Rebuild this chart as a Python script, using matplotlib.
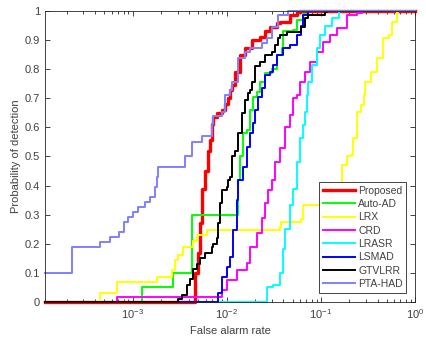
import matplotlib.pyplot as plt
from matplotlib.ticker import LogLocator, NullFormatter

plt.rcParams['font.family'] = ['Liberation Sans', 'DejaVu Sans']

# ROC curves (false alarm rate, probability of detection), drawn as post-steps
fpr_proposed = [1.17e-4, 3.62e-3, 4.64e-3, 4.99e-3, 5.24e-3, 5.46e-3, 5.92e-3, 6.37e-3, 6.68e-3, 6.97e-3,
                7.19e-3, 7.89e-3, 8.91e-3, 9.66e-3, 1.04e-2, 1.09e-2, 1.14e-2, 1.23e-2, 1.39e-2, 1.58e-2,
                1.86e-2, 2.28e-2, 2.57e-2, 2.91e-2, 3.43e-2, 3.72e-2, 4.74e-2, 5.6e-2, 6.07e-2, 1.0]
pd_proposed = [0, 0.0, 0.10, 0.17, 0.27, 0.39, 0.45, 0.52, 0.557, 0.61,
               0.635, 0.65, 0.66, 0.68, 0.70, 0.73, 0.745, 0.79, 0.85, 0.873,
               0.90, 0.912, 0.93, 0.946, 0.958, 0.963, 0.986, 0.998, 1.0, 1.0]

fpr_autoad = [1.17e-4, 1.26e-3, 2.70e-3, 4.28e-3, 1.33e-2, 1.39e-2, 1.50e-2, 1.64e-2, 1.78e-2, 1.92e-2,
              2.10e-2, 2.28e-2, 2.57e-2, 3.03e-2, 3.43e-2, 3.90e-2, 4.0e-2, 5.1e-2, 5.6e-2, 6.53e-2,
              7.38e-2, 1.0]
pd_autoad = [0, 0.05, 0.10, 0.30, 0.42, 0.50, 0.58, 0.59, 0.66, 0.705,
             0.72, 0.757, 0.787, 0.80, 0.85, 0.873, 0.93, 0.935, 0.97, 0.99,
             1.0, 1.0]

fpr_lrx = [1.17e-4, 4.5e-4, 6.8e-4, 1.81e-3, 2.62e-3, 2.84e-3, 3.05e-3, 3.45e-3, 4.41e-3, 4.83e-3,
           6.17e-3, 3.72e-2, 3.81e-2, 6.21e-2, 6.53e-2, 0.160, 0.168, 0.19, 0.207, 0.222,
           0.243, 0.264, 0.284, 0.298, 0.337, 0.397, 0.463, 0.524, 0.573, 0.647, 0.668, 1.0]
pd_lrx = [0, 0.03, 0.07, 0.085, 0.11, 0.144, 0.16, 0.19, 0.21, 0.23,
          0.247, 0.258, 0.275, 0.286, 0.333, 0.40, 0.47, 0.50, 0.505, 0.563,
          0.654, 0.677, 0.71, 0.757, 0.79, 0.84, 0.907, 0.917, 0.963, 0.998, 1.0, 1.0]

fpr_crd = [1.17e-4, 6.8e-4, 8.91e-3, 1.007e-2, 1.29e-2, 1.64e-2, 1.78e-2, 2.10e-2, 2.37e-2, 2.57e-2,
           2.77e-2, 3.03e-2, 3.29e-2, 3.72e-2, 4.2e-2, 4.74e-2, 5.1e-2, 5.6e-2, 6.07e-2, 6.86e-2,
           7.74e-2, 9.12e-2, 0.106, 0.126, 0.149, 0.19, 0.243, 0.275, 1.0]
pd_crd = [0, 0.016, 0.04, 0.075, 0.11, 0.134, 0.19, 0.237, 0.29, 0.34,
          0.385, 0.42, 0.48, 0.53, 0.60, 0.643, 0.70, 0.71, 0.757, 0.79,
          0.825, 0.86, 0.894, 0.917, 0.94, 0.986, 0.993, 1.0, 1.0]

fpr_lrasr = [1.17e-4, 2.68e-2, 3.13e-2, 3.69e-2, 4.0e-2, 4.17e-2, 4.71e-2, 5.1e-2, 5.6e-2, 6.07e-2,
             6.53e-2, 6.86e-2, 7.14e-2, 7.38e-2, 8.07e-2, 9.12e-2, 9.9e-2, 0.112, 0.132, 0.154, 1.0]
pd_lrasr = [0, 0.05, 0.058, 0.10, 0.183, 0.25, 0.333, 0.39, 0.48, 0.563,
            0.608, 0.654, 0.71, 0.757, 0.815, 0.873, 0.917, 0.95, 0.976, 1.0, 1.0]

fpr_lsmad = [1.17e-4, 8.13e-3, 8.91e-3, 1.007e-2, 1.09e-2, 1.17e-2, 1.29e-2, 1.33e-2, 1.50e-2,
             1.64e-2, 1.78e-2, 1.92e-2, 2.01e-2, 2.17e-2, 2.37e-2, 2.57e-2, 2.91e-2, 3.13e-2, 3.43e-2,
             4.0e-2, 4.74e-2, 5.6e-2, 6.21e-2, 6.53e-2, 7.38e-2, 1.0]
pd_lsmad = [0, 0.03, 0.087, 0.12, 0.155, 0.247, 0.35, 0.42, 0.464,
            0.534, 0.58, 0.615, 0.66, 0.705, 0.735, 0.78, 0.79, 0.815, 0.85,
            0.873, 0.883, 0.917, 0.95, 0.986, 1.0, 1.0]

fpr_gtvlrr = [1.17e-4, 3.05e-3, 3.34e-3, 3.78e-3, 4.10e-3, 4.41e-3, 4.83e-3, 5.24e-3, 5.92e-3, 6.97e-3,
              7.19e-3, 7.89e-3, 8.13e-3, 8.55e-3, 8.91e-3, 1.007e-2, 1.04e-2, 1.09e-2, 1.14e-2, 1.23e-2,
              1.33e-2, 1.46e-2, 1.58e-2, 1.70e-2, 1.78e-2, 1.86e-2, 2.01e-2, 2.28e-2, 2.57e-2, 3.03e-2,
              3.29e-2, 3.54e-2, 3.72e-2, 4.38e-2, 6.21e-2, 6.86e-2, 7.38e-2, 0.112, 0.117, 1.0]
pd_gtvlrr = [0, 0.01, 0.024, 0.058, 0.08, 0.114, 0.13, 0.15, 0.17, 0.19,
             0.20, 0.22, 0.27, 0.34, 0.385, 0.396, 0.42, 0.43, 0.50, 0.52,
             0.58, 0.65, 0.694, 0.717, 0.73, 0.757, 0.81, 0.825, 0.85, 0.86,
             0.883, 0.907, 0.917, 0.928, 0.945, 0.975, 0.986, 0.996, 1.0, 1.0]

fpr_ptahad = [1.17e-4, 2.28e-4, 4.5e-4, 5.8e-4, 7.1e-4, 8.0e-4, 8.97e-4, 1.01e-3, 1.15e-3, 1.36e-3,
              1.54e-3, 1.74e-3, 1.81e-3, 1.87e-3, 3.62e-3, 4.28e-3, 5.46e-3, 6.97e-3, 7.19e-3, 8.91e-3,
              9.66e-3, 1.09e-2, 1.14e-2, 1.33e-2, 1.58e-2, 1.78e-2, 2.37e-2, 2.68e-2, 3.03e-2, 3.54e-2,
              4.52e-2, 1.0]
pd_ptahad = [0.10, 0.19, 0.207, 0.224, 0.24, 0.276, 0.293, 0.31, 0.328, 0.345,
             0.362, 0.396, 0.43, 0.465, 0.50, 0.55, 0.57, 0.61, 0.64, 0.654,
             0.71, 0.73, 0.757, 0.84, 0.86, 0.873, 0.89, 0.907, 0.946, 0.986,
             1.0, 1.0]

names = ['Proposed', 'Auto-AD', 'LRX', 'CRD', 'LRASR', 'LSMAD', 'GTVLRR', 'PTA-HAD']
curvas = [(fpr_proposed, pd_proposed), (fpr_autoad, pd_autoad), (fpr_lrx, pd_lrx),
          (fpr_crd, pd_crd), (fpr_lrasr, pd_lrasr), (fpr_lsmad, pd_lsmad),
          (fpr_gtvlrr, pd_gtvlrr), (fpr_ptahad, pd_ptahad)]
colores = ['#ff0000', '#00ff00', '#ffff00', '#ff00ff', '#00ffff', '#0000ff', '#000000', '#8080ff']
anchos = [2.4, 1.4, 1.4, 1.4, 1.4, 1.4, 1.4, 1.4]

fig = plt.figure(figsize=(4.26, 3.43), dpi=100)
ax = fig.add_axes([0.1056, 0.1195, 0.8685, 0.8485])

for nombre, (fx, fy), c, lw in zip(names, curvas, colores, anchos):
    ax.step(fx, fy, where='post', color=c, linewidth=lw, label=nombre, clip_on=False)

ax.set_xscale('log')
ax.set_xlim(1.17e-4, 1)
ax.set_ylim(0, 1)
ax.set_xticks([1e-3, 1e-2, 1e-1, 1e0])
ax.xaxis.set_minor_locator(LogLocator(base=10, subs=range(2, 10), numticks=20))
ax.xaxis.set_minor_formatter(NullFormatter())
yt = [i / 10 for i in range(11)]
ax.set_yticks(yt)
ax.set_yticklabels(['0', '0.1', '0.2', '0.3', '0.4', '0.5', '0.6', '0.7', '0.8', '0.9', '1'])

gris = '#262626'
ax.tick_params(which='both', direction='in', top=True, right=True, colors=gris,
               labelcolor='#404040', labelsize=8, width=0.6)
ax.tick_params(which='major', length=3.5)
ax.tick_params(which='minor', length=2)
for s in ax.spines.values():
    s.set_color(gris)
    s.set_linewidth(0.6)

ax.set_xlabel('False alarm rate', fontsize=8, color='#404040', labelpad=4)
ax.set_ylabel('Probability of detection', fontsize=8, color='#404040', labelpad=3)

leg = ax.legend(loc='lower right', bbox_to_anchor=(0.977, 0.032), borderaxespad=0,
                fontsize=7.5, handlelength=3.1, handletextpad=0.3, labelspacing=0.32,
                fancybox=False, framealpha=1, borderpad=0.35)
leg.get_frame().set_edgecolor(gris)
leg.get_frame().set_linewidth(0.6)
for t in leg.get_texts():
    t.set_color('#404040')

fig.savefig('out.png', dpi=100)
